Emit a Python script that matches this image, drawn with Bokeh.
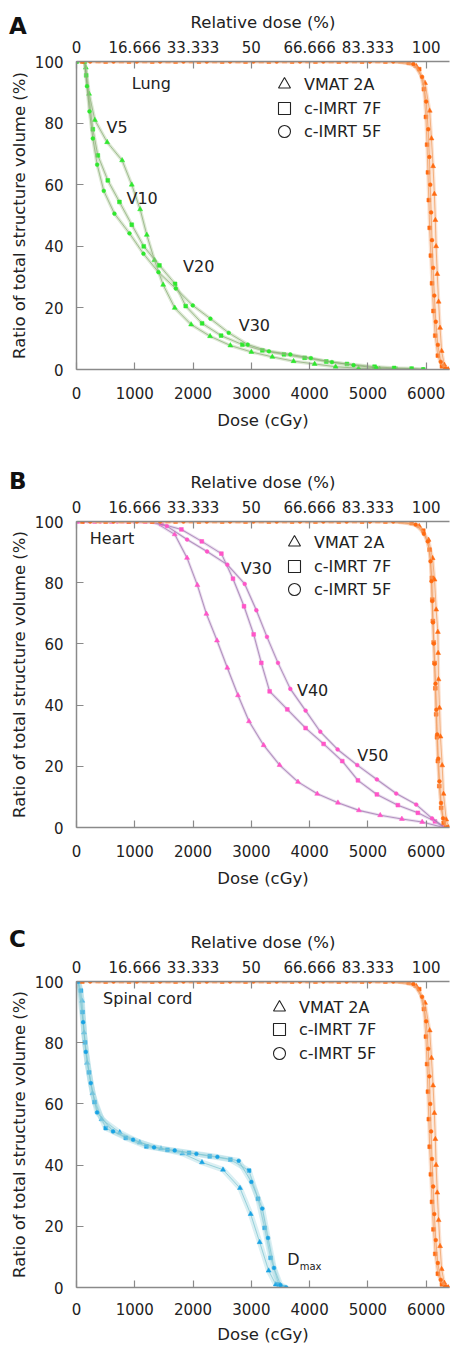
from bokeh.plotting import figure
from bokeh.models import Range1d, LinearAxis, FixedTicker, Legend, LegendItem, Div
from bokeh.layouts import column
from bokeh.embed import file_html
from bokeh.resources import INLINE
from bokeh.core.properties import value

FONT = "DejaVu Sans"

# ---------------- axis ticks ----------------
dose_ticks = [0, 1000, 2000, 3000, 4000, 5000, 6000]
relative_tick_labels = ["0", "16.666", "33.333", "50", "66.666", "83.333", "100"]
volume_ticks = [0, 20, 40, 60, 80, 100]
plan_names = ["VMAT 2A", "c-IMRT 7F", "c-IMRT 5F"]

# ---------------- PTV (panels A and C) ----------------
ptv_vmat_dose = [370, 770, 1170, 1570, 1970, 2370, 2770, 3170, 3570, 3970, 4370, 4770, 5170, 5570,
                 5830, 5980, 6060, 6090, 6118, 6140, 6157, 6170, 6190, 6213, 6238, 6265, 6310, 6380]
ptv_vmat_vol = [100, 100, 100, 100, 100, 100, 100, 100, 100, 100, 100, 100, 100, 99.9,
                98.5, 93, 84, 75, 66, 57, 48.5, 40, 31, 22, 13.5, 6, 1.5, 0]
ptv_7f_dose = [100, 500, 900, 1300, 1700, 2100, 2500, 2900, 3300, 3700, 4100, 4500, 4900, 5300,
               5700, 5880, 5960, 5995, 6015, 6030, 6045, 6060, 6080, 6100, 6125, 6155, 6200, 6270, 6330]
ptv_7f_vol = [100, 100, 100, 100, 100, 100, 100, 100, 100, 100, 100, 100, 100, 100,
              99.6, 97.5, 91, 82, 73, 64, 55, 46, 37, 28, 19, 11, 4.5, 1, 0]
ptv_5f_dose = [235, 635, 1035, 1435, 1835, 2235, 2635, 3035, 3435, 3835, 4235, 4635, 5035, 5435,
               5780, 5930, 6000, 6035, 6055, 6070, 6085, 6100, 6120, 6140, 6165, 6200, 6250, 6330, 6370]
ptv_5f_vol = [100, 100, 100, 100, 100, 100, 100, 100, 100, 100, 100, 100, 100, 100,
              99.2, 95, 87, 78, 69, 60, 51, 42, 33, 24, 15.5, 8, 2.5, 0.3, 0]

# ---------------- PTV (panel B) ----------------
ptvb_vmat_dose = [370, 770, 1170, 1570, 1970, 2370, 2770, 3170, 3570, 3970, 4370, 4770, 5170, 5570,
                  5880, 6040, 6110, 6143, 6171, 6200, 6205, 6211, 6228, 6245, 6274, 6297, 6343, 6385]
ptvb_vmat_vol = [100, 100, 100, 100, 100, 100, 100, 100, 100, 100, 100, 100, 100, 99.9,
                 98.5, 94, 88, 81, 71.2, 63.9, 57, 48.4, 39.1, 29.7, 20.3, 11, 2.6, 0]
ptvb_7f_dose = [100, 500, 900, 1300, 1700, 2100, 2500, 2900, 3300, 3700, 4100, 4500, 4900, 5300,
                5750, 5950, 6057, 6097, 6105, 6114, 6128, 6143, 6157, 6171, 6185, 6200, 6225, 6257, 6300, 6340]
ptvb_7f_vol = [100, 100, 100, 100, 100, 100, 100, 100, 100, 100, 100, 100, 100, 100,
               99.5, 97, 90.8, 81.6, 74.5, 67.5, 60.5, 53.8, 45.5, 37, 29.5, 21.7, 13.5, 6.4, 1.5, 0]
ptvb_5f_dose = [235, 635, 1035, 1435, 1835, 2235, 2635, 3035, 3435, 3835, 4235, 4635, 5035, 5435,
                5820, 5960, 6028, 6074, 6090, 6103, 6117, 6131, 6146, 6160, 6175, 6189, 6208, 6228, 6255, 6290, 6360]
ptvb_5f_vol = [100, 100, 100, 100, 100, 100, 100, 100, 100, 100, 100, 100, 100, 100,
               99, 96, 93.5, 87, 80.5, 74, 67, 60.1, 53.5, 47, 38.5, 30.4, 22.5, 15.1, 8, 3, 0]

# ---------------- Lung ----------------
lung_vmat_dose = [0, 140, 160, 216, 315, 526, 783, 948, 1092, 1206, 1338, 1487, 1686, 1967, 2292,
                  2640, 3000, 3360, 3725, 4086, 4446, 4840, 5200, 5500]
lung_vmat_vol = [100, 100, 98, 89.5, 81, 73.8, 67.9, 60, 52, 43.7, 35.5, 27.5, 20, 14.6, 10.8,
                 7.8, 5.7, 4.1, 2.7, 1.8, 0.9, 0.4, 0.2, 0]
lung_7f_dose = [0, 140, 166, 280, 366, 537, 737, 948, 1154, 1423, 1691, 1874, 2155, 2481, 2846,
                3189, 3559, 3914, 4286, 4640, 5114, 5450, 5750, 5950]
lung_7f_vol = [100, 100, 95.5, 78, 69.5, 61.4, 54.4, 47, 40, 33.8, 27.8, 20.6, 15, 11, 8.1,
               6.2, 4.9, 3.8, 2.6, 1.8, 0.9, 0.5, 0.3, 0]
lung_5f_dose = [0, 140, 180, 223, 280, 355, 468, 651, 909, 1149, 1406, 1703, 1995, 2298, 2612,
                2938, 3302, 3669, 4022, 4383, 4754, 5143, 5450, 5750, 5950]
lung_5f_vol = [100, 100, 92, 83.8, 75, 66.5, 58, 50.6, 44.2, 37.6, 31.6, 26.3, 20.8, 16.5, 11.9,
               8.1, 5.9, 4.9, 3.7, 2.4, 1.4, 0.5, 0.3, 0.2, 0]

# ---------------- Heart ----------------
heart_vmat_dose = [215, 505, 795, 1085, 1343, 1685, 1897, 2074, 2229, 2411, 2588, 2771, 2960, 3211,
                   3485, 3800, 4131, 4486, 4846, 5211, 5583, 5931, 6300]
heart_vmat_vol = [100, 100, 100, 100, 99.8, 95.8, 88.1, 79.2, 69.8, 61.1, 52.2, 43.2, 34.7, 26.9,
                  20.4, 14.9, 11.0, 8.1, 5.6, 4.0, 2.8, 1.8, 0]
heart_7f_dose = [20, 310, 600, 890, 1180, 1457, 1800, 2150, 2486, 2685, 2874, 3040, 3171, 3314,
                 3617, 3931, 4240, 4560, 4829, 5154, 5514, 5857, 6150, 6300]
heart_7f_vol = [100, 100, 100, 100, 100, 99.2, 97.4, 93.5, 89.5, 81.3, 72.3, 63.1, 53.8, 44.5,
                38.6, 32.5, 27.3, 21.7, 15.4, 10.8, 7.3, 4.8, 2.0, 0]
heart_5f_dose = [120, 410, 700, 990, 1280, 1550, 1897, 2240, 2588, 2886, 3086, 3268, 3457, 3669,
                 3931, 4183, 4480, 4817, 5154, 5486, 5829, 6100, 6320]
heart_5f_vol = [100, 100, 100, 100, 100, 98.5, 94.1, 90.2, 85.9, 79.6, 71.0, 62.3, 53.8, 45.3,
                38.2, 31.3, 25.5, 20.4, 15.7, 11.1, 7.5, 3.0, 0]

# ---------------- Spinal cord ----------------
cord_vmat_dose = [30, 96, 130, 182, 274, 430, 742, 1085, 1450, 1817, 2153, 2514, 2805, 2988, 3143,
                  3297, 3420, 3520]
cord_vmat_vol = [100, 93.7, 83.3, 73.4, 63.5, 55.0, 50.7, 47.4, 45.4, 43.8, 40.9, 38.5, 32.5, 24.0,
                 14.8, 5.5, 1.0, 0]
cord_7f_dose = [30, 74, 103, 147, 216, 309, 502, 845, 1200, 1560, 1931, 2286, 2640, 2960, 3114,
                3229, 3331, 3469, 3560]
cord_7f_vol = [100, 97, 90, 80.1, 70.3, 60.6, 52.1, 48.9, 46.1, 45.0, 44.0, 42.9, 41.8, 38.2, 29.0,
               19.5, 9.7, 1.0, 0]
cord_5f_dose = [30, 114, 160, 245, 353, 628, 971, 1331, 1685, 2057, 2417, 2783, 3000, 3189, 3286,
                3389, 3500, 3600]
cord_5f_vol = [100, 86.7, 77.0, 66.8, 57.2, 51.0, 48.3, 45.8, 44.8, 43.7, 42.7, 41.4, 34.5, 25.8,
               16.2, 6.4, 0.8, 0]

MARKERS = ["triangle", "square", "circle"]
MSIZE = [5.0, 3.8, 3.8]
TXT = "#222222"
AXC = "#8a8a8a"
TOP = 61
LEFT = 76

PTV_STYLE = dict(halo="#f7b890", core="#f09a5a", marker="#ff6a10", hw=3.5, cw=1.0)


def style_axis(ax, lab_standoff, ax_standoff):
    ax.axis_line_color = AXC
    ax.axis_line_width = 1.5
    ax.major_tick_line_color = AXC
    ax.major_tick_line_width = 1.2
    ax.major_tick_in = 7
    ax.major_tick_out = 0
    ax.minor_tick_line_color = None
    ax.major_label_text_font = FONT
    ax.major_label_text_font_size = "15px"
    ax.major_label_text_color = TXT
    ax.major_label_standoff = lab_standoff
    ax.axis_label_text_font = FONT
    ax.axis_label_text_font_size = "16.5px"
    ax.axis_label_text_font_style = "normal"
    ax.axis_label_text_color = TXT
    ax.axis_label_standoff = ax_standoff


def draw_curve(p, dose, vol, style, k):
    p.line(dose, vol, line_color=style["halo"], line_width=style["hw"], line_alpha=0.4)
    p.line(dose, vol, line_color=style["core"], line_width=style["cw"], line_alpha=0.7)
    p.scatter(dose, vol, marker=MARKERS[k], size=MSIZE[k], fill_color=style["marker"],
              line_color=style["marker"], line_width=0.5)


def make_panel(height, frame_h, organ_series, ptv_series, style, notes, legend_x, legend_ys,
               bottom_standoffs):
    p = figure(width=LEFT + 373 + 1, height=height, x_range=Range1d(0, 6400), y_range=Range1d(0, 100),
               output_backend="svg", toolbar_location=None,
               min_border_left=LEFT, min_border_right=1, min_border_top=TOP,
               min_border_bottom=height - TOP - frame_h)
    p.outline_line_color = None
    p.xgrid.visible = False
    p.ygrid.visible = False
    p.background_fill_color = "white"
    p.border_fill_color = "white"

    p.xaxis.ticker = FixedTicker(ticks=dose_ticks)
    p.xaxis.axis_label = "Dose (cGy)"
    p.yaxis.ticker = FixedTicker(ticks=volume_ticks)
    p.yaxis.axis_label = "Ratio of total structure volume (%)"
    style_axis(p.xaxis[0], bottom_standoffs[0], bottom_standoffs[1])
    style_axis(p.yaxis[0], 13, 3)

    top = LinearAxis(axis_label="Relative dose (%)", ticker=FixedTicker(ticks=dose_ticks),
                     major_label_overrides={t: s for t, s in zip(dose_ticks, relative_tick_labels)})
    style_axis(top, 9, 6)
    p.add_layout(top, "above")

    for k, (d, v) in enumerate(organ_series):
        draw_curve(p, d, v, style, k)
    for k, (d, v) in enumerate(ptv_series):
        draw_curve(p, d, v, PTV_STYLE, k)

    for (tx, ty, t) in notes:
        p.text(x=[tx], y=[ty], text=[t], text_font=value(FONT), text_font_size="16px",
               text_color=TXT, text_baseline="middle", text_align="left")

    # legend: one single-item legend per plan, proxies placed outside the visible ranges
    for k, name in enumerate(plan_names):
        r = p.scatter(x=[-9999], y=[-9999], marker=MARKERS[k], fill_color=None,
                      line_color="#222222", line_width=1.1)
        leg = Legend(items=[LegendItem(label=name, renderers=[r])], location=(legend_x, legend_ys[k]),
                     glyph_width=30, glyph_height=30, label_height=20, spacing=0, padding=0,
                     margin=0, label_standoff=5, label_text_font=FONT, label_text_font_size="16px",
                     label_text_color=TXT, background_fill_alpha=0, border_line_color=None)
        p.add_layout(leg, "center")
    return p


def letter_div(letter, top_gap):
    return Div(text=letter, width=30, height=30, margin=(top_gap, 0, -(top_gap + 30), 9),
               styles={"font-family": FONT, "font-size": "23px", "font-weight": "bold",
                       "color": "#111111", "line-height": "27px", "position": "relative",
                       "z-index": "10"})


lung_style = dict(halo="#a9c895", core="#86a872", marker="#2ee82e", hw=3.5, cw=1.0)
heart_style = dict(halo="#cfb2da", core="#9a72ab", marker="#ff55c8", hw=3.0, cw=1.1)
cord_style = dict(halo="#a3d8e0", core="#79c3cf", marker="#18a3e4", hw=5.5, cw=1.0)

ptv_ac = [(ptv_vmat_dose, ptv_vmat_vol), (ptv_7f_dose, ptv_7f_vol), (ptv_5f_dose, ptv_5f_vol)]
ptv_b = [(ptvb_vmat_dose, ptvb_vmat_vol), (ptvb_7f_dose, ptvb_7f_vol), (ptvb_5f_dose, ptvb_5f_vol)]

pA = make_panel(460, 308,
                [(lung_vmat_dose, lung_vmat_vol), (lung_7f_dose, lung_7f_vol), (lung_5f_dose, lung_5f_vol)],
                ptv_ac, lung_style,
                [(948, 93, "Lung"), (514, 78.7, "V5"), (857, 55.5, "V10"),
                 (1828, 33.4, "V20"), (2783, 14.4, "V30")],
                193, (270, 246, 223), (17, 9))

pB = make_panel(460, 306,
                [(heart_vmat_dose, heart_vmat_vol), (heart_7f_dose, heart_7f_vol), (heart_5f_dose, heart_5f_vol)],
                ptv_b, heart_style,
                [(228, 94.4, "Heart"), (2817, 84.6, "V30"), (3783, 44.8, "V40"), (4817, 23.5, "V50")],
                203, (270, 246, 223), (17, 9))

pC = make_panel(429, 306,
                [(cord_vmat_dose, cord_vmat_vol), (cord_7f_dose, cord_7f_vol), (cord_5f_dose, cord_5f_vol)],
                ptv_ac, cord_style,
                [(456, 94.3, "Spinal cord")],
                188, (265, 243, 219), (15, 7))
pC.text(x=[3617], y=[9.0], text=["D"], text_font=value(FONT), text_font_size="16px",
        text_color=TXT, text_baseline="middle", text_align="left")
pC.text(x=[3829], y=[6.9], text=["max"], text_font=value(FONT), text_font_size="10px",
        text_color=TXT, text_baseline="alphabetic", text_align="left")

layout = column(letter_div("A", 13), pA, letter_div("B", 8), pB, letter_div("C", 6), pC, spacing=0)
open("out.html", "w").write(file_html(layout, INLINE))
